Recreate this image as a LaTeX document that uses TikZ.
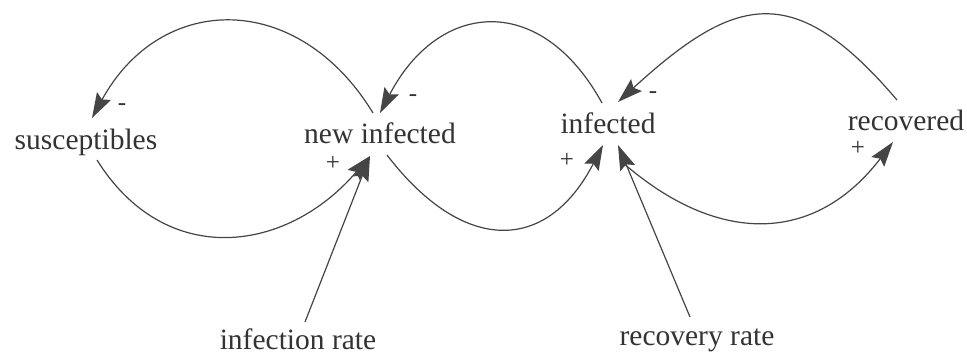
\documentclass[tikz,border=0pt]{standalone}
\usepackage{fontspec}
\setmainfont{Liberation Serif}
\newfontfamily\tmsfont{Liberation Serif}
\usetikzlibrary{arrows.meta,calc}
\definecolor{ink}{HTML}{333333}
\definecolor{wire}{HTML}{454545}
\tikzset{
  lbl/.style={font=\tmsfont\fontsize{29.5}{34}\selectfont, text=ink, inner sep=0pt, anchor=base},
  sgn/.style={font=\tmsfont\fontsize{25}{30}\selectfont, text=ink, inner sep=0pt},
  link/.style={draw=wire, line width=1.2pt, -{Stealth[length=25pt,width=16pt,inset=4pt,fill=wire]}},
}
\begin{document}
\begin{tikzpicture}[x=1pt,y=-1pt]
\useasboundingbox[fill=white] (0,0) rectangle (967,356);
% variables
\node[lbl] (sus) at (86,149) {susceptibles};
\node[lbl] (ni)  at (380,143) {new infected};
\node[lbl] (inf) at (608,133) {infected};
\node[lbl] (rec) at (906,130) {recovered};
\node[lbl] (ir)  at (298,349) {infection rate};
\node[lbl] (rr)  at (697,345) {recovery rate};
% connector ends
\coordinate (niA) at ($(ni.base)+(-7,-30)$);
\coordinate (niB) at ($(ni.base)+(0,-30)$);
\coordinate (niC) at ($(ni.base)+(-10,13)$);
\coordinate (niD) at ($(ni.base)+(7,12)$);
\coordinate (susA) at ($(sus.base)+(6,-31)$);
\coordinate (susB) at ($(sus.base)+(11,11)$);
\coordinate (infA) at ($(inf.base)+(-6,-30)$);
\coordinate (infB) at ($(inf.base)+(10,-31)$);
\coordinate (infC) at ($(inf.base)+(-5,12)$);
\coordinate (infD) at ($(inf.base)+(10,12)$);
\coordinate (infE) at ($(inf.base)+(14,29)$);
\coordinate (recA) at ($(rec.base)+(-9,-30)$);
\coordinate (recB) at ($(rec.base)+(-13,12)$);
\coordinate (irA) at ($(ir.base)+(7,-27)$);
\coordinate (rrA) at ($(rr.base)+(-7,-28)$);
% loops
\draw[link] (niA) .. controls (298,-10) and (161,-8) .. (susA);
\draw[link] (susB) .. controls (165,269) and (286,254) .. (niC);
\draw[link] (infA) .. controls (541,-8) and (439,0) .. (niB);
\draw[link] (niD) .. controls (462,253) and (546,255) .. (infC);
\draw[link] (recA) .. controls (794,-21) and (735,-5) .. (infB);
\draw[link] (infE) .. controls (718,246) and (815,244) .. (recB);
% rates
\draw[link] (irA) -- (niC);
\draw[link] (rrA) -- (infD);
% polarities
\node[sgn] (s1) at (122,107) {-};
\node[sgn] (s2) at (333,163) {+};
\node[sgn] (s3) at (413,98) {-};
\node[sgn] (s4) at (567,160) {+};
\node[sgn] (s5) at (653,95) {-};
\node[sgn] (s6) at (858,148) {+};
\end{tikzpicture}
\end{document}
